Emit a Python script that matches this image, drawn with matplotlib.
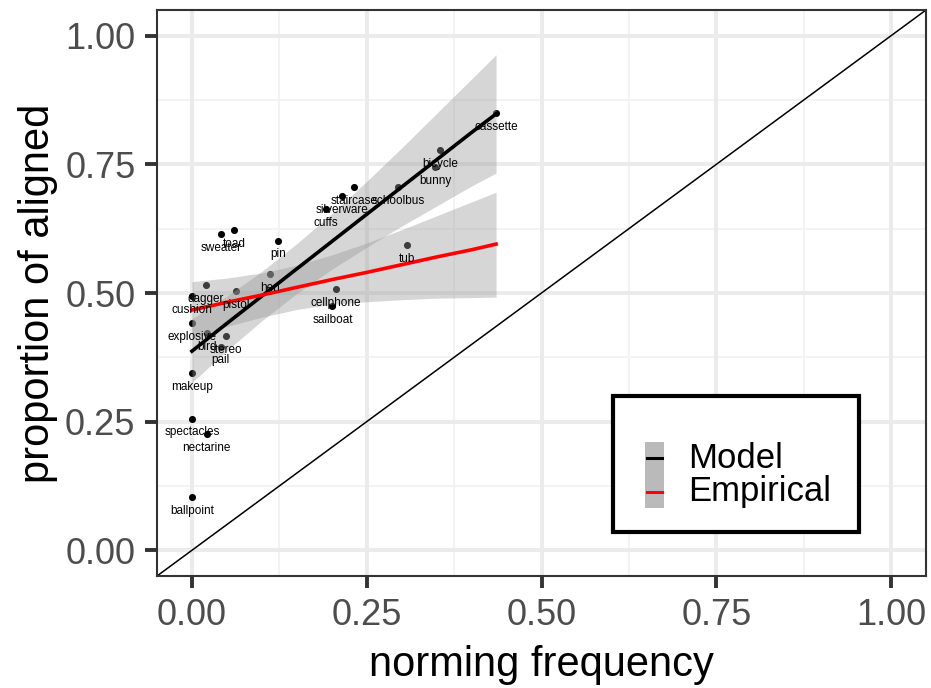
import matplotlib
matplotlib.use("Agg")
import matplotlib.pyplot as plt
from matplotlib.patches import Rectangle

plt.rcParams["font.family"] = ["Liberation Sans", "DejaVu Sans"]

# labelled items: norming frequency vs proportion of aligned
words = ["cassette", "bicycle", "bunny", "schoolbus", "staircase", "silverware",
         "cuffs", "tub", "pin", "toad", "sweater", "hen", "cellphone", "sailboat",
         "dagger", "pistol", "cushion", "explosive", "bird", "stereo", "pail",
         "makeup", "spectacles", "nectarine", "ballpoint"]
freq = [0.435, 0.355, 0.348, 0.295, 0.232, 0.215, 0.192, 0.307, 0.123, 0.060,
        0.042, 0.112, 0.206, 0.201, 0.020, 0.063, 0.0, 0.0, 0.021, 0.048,
        0.041, 0.0, 0.0, 0.021, 0.0]
aligned = [0.850, 0.778, 0.744, 0.706, 0.706, 0.689, 0.664, 0.593, 0.602, 0.623,
           0.614, 0.537, 0.508, 0.474, 0.516, 0.503, 0.494, 0.441, 0.422, 0.417,
           0.396, 0.345, 0.256, 0.226, 0.104]

# fitted lines with confidence bands
band_x = [0.0, 0.05, 0.1, 0.15, 0.2, 0.25, 0.3, 0.35, 0.4, 0.435]
model_fit = [0.387, 0.441, 0.494, 0.547, 0.600, 0.653, 0.706, 0.759, 0.812, 0.848]
model_lo = [0.326, 0.388, 0.446, 0.499, 0.546, 0.589, 0.630, 0.669, 0.708, 0.733]
model_hi = [0.450, 0.494, 0.542, 0.596, 0.654, 0.717, 0.782, 0.849, 0.916, 0.963]
emp_fit = [0.467, 0.482, 0.496, 0.511, 0.526, 0.540, 0.555, 0.570, 0.584, 0.595]
emp_lo = [0.412, 0.435, 0.453, 0.468, 0.478, 0.483, 0.487, 0.490, 0.491, 0.492]
emp_hi = [0.522, 0.529, 0.539, 0.554, 0.574, 0.597, 0.623, 0.650, 0.677, 0.696]

ticks = [0.0, 0.25, 0.5, 0.75, 1.0]
tick_labels = ["0.00", "0.25", "0.50", "0.75", "1.00"]

fig = plt.figure(figsize=(9.31, 6.88), dpi=100)
ax = fig.add_axes([157 / 931, 1 - 576 / 688, 769 / 931, 566 / 688])
ax.set_xlim(-0.05, 1.05)
ax.set_ylim(-0.05, 1.05)

# grid (theme_bw style)
for v in [0.125, 0.375, 0.625, 0.875]:
    ax.axvline(v, color="#f2f2f2", lw=1.3, zorder=0)
    ax.axhline(v, color="#f2f2f2", lw=1.3, zorder=0)
for v in ticks:
    ax.axvline(v, color="#ebebeb", lw=2.8, zorder=0)
    ax.axhline(v, color="#ebebeb", lw=2.8, zorder=0)

ax.axline((0, 0), (1, 1), color="black", lw=1.1, zorder=1)

ax.scatter(freq, aligned, s=26, color="black", linewidths=0, zorder=2)

ax.fill_between(band_x, model_lo, model_hi, color="#999999", alpha=0.4,
                linewidth=0, zorder=3)
ax.fill_between(band_x, emp_lo, emp_hi, color="#999999", alpha=0.4,
                linewidth=0, zorder=3)
ax.plot(band_x, model_fit, color="black", lw=2.6, zorder=4)
ax.plot(band_x, emp_fit, color="red", lw=2.6, zorder=4)

for w, x, y in zip(words, freq, aligned):
    ax.text(x, y - 0.027, w, fontsize=8.5, ha="center", va="center",
            color="black", zorder=5)

ax.set_xticks(ticks)
ax.set_xticklabels(tick_labels)
ax.set_yticks(ticks)
ax.set_yticklabels(tick_labels)
ax.tick_params(length=8.5, width=2.8, color="#333333", labelsize=26,
               labelcolor="#4d4d4d", pad=7)
for s in ax.spines.values():
    s.set_color("#333333")
    s.set_linewidth(1.5)

ax.set_xlabel("norming frequency", fontsize=30, labelpad=9)
ax.set_ylabel("proportion of aligned", fontsize=30, labelpad=5)

# legend drawn by hand to get the joined grey key
ax.add_patch(Rectangle((0.5926, 0.0783), 0.3207, 0.2397, transform=ax.transAxes,
                       facecolor="white", edgecolor="black", lw=3, zorder=6))
ax.add_patch(Rectangle((0.6346, 0.1196), 0.0251, 0.1177, transform=ax.transAxes,
                       facecolor="#bababa", edgecolor="none", zorder=7))
ax.plot([0.6375, 0.6567], [0.2080, 0.2080], transform=ax.transAxes,
        color="black", lw=2.2, zorder=8)
ax.plot([0.6375, 0.6567], [0.1489, 0.1489], transform=ax.transAxes,
        color="red", lw=2.2, zorder=8)
ax.text(0.6909, 0.2080, "Model", transform=ax.transAxes, fontsize=25,
        va="center", ha="left", zorder=8)
ax.text(0.6909, 0.1489, "Empirical", transform=ax.transAxes, fontsize=25,
        va="center", ha="left", zorder=8)

fig.savefig("out.png", dpi=100, facecolor="white")
